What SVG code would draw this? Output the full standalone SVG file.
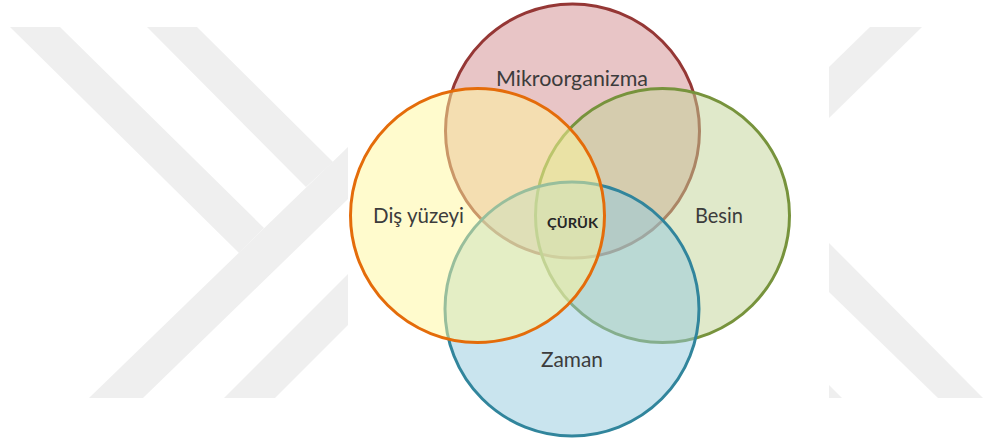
<svg xmlns="http://www.w3.org/2000/svg" width="984" height="443" viewBox="0 0 984 443">
  <style>
    .wm { fill: #efefef; }
    .lbl { font-family: Lato, "Open Sans", "Liberation Sans", sans-serif; font-size: 21px; fill: #3c3c3c; text-anchor: middle; }
    .core { font-family: Lato, "Open Sans", "Liberation Sans", sans-serif; font-size: 14px; font-weight: bold; fill: #262626; text-anchor: middle; }
    .ring { stroke-width: 3; }
  </style>
  <rect width="984" height="443" fill="#ffffff"/>
  <g id="watermark">
    <polygon class="wm" points="10,27 60,27 264,228 239,253"/>
    <polygon class="wm" points="147,27 197,27 333,162 306,187"/>
    <polygon class="wm" points="89,398 143,398 348,199 348,147"/>
    <polygon class="wm" points="224,398 275,398 348,325 348,274"/>
    <polygon class="wm" points="870,27 922,27 829,118 829,67"/>
    <polygon class="wm" points="829,243 983,398 938,398 829,292"/>
    <polygon class="wm" points="829,385 842,398 829,398"/>
  </g>
  <g id="node-mikroorganizma">
    <circle class="ring" cx="572.5" cy="131" r="127" fill="#d18b8d" fill-opacity="0.5" stroke="#953735"/>
  </g>
  <g id="node-besin">
    <circle class="ring" cx="662.5" cy="215.5" r="127" fill="#c1d395" fill-opacity="0.5" stroke="#77933c"/>
  </g>
  <g id="node-zaman">
    <circle class="ring" cx="572" cy="309" r="127" fill="#93c9dd" fill-opacity="0.5" stroke="#31859c"/>
  </g>
  <g id="node-dis-yuzeyi">
    <circle class="ring" cx="477.5" cy="215.5" r="127" fill="#fff89b" fill-opacity="0.5" stroke="#e46c0a"/>
  </g>
  <g id="labels">
    <text class="lbl" x="572" y="86" textLength="152" lengthAdjust="spacingAndGlyphs">Mikroorganizma</text>
    <text class="lbl" x="418.5" y="223" textLength="91" lengthAdjust="spacingAndGlyphs">Diş yüzeyi</text>
    <text class="lbl" x="719" y="223" textLength="48" lengthAdjust="spacingAndGlyphs">Besin</text>
    <text class="lbl" x="572" y="367" textLength="62" lengthAdjust="spacingAndGlyphs">Zaman</text>
  </g>
  <g id="node-curuk">
    <text class="core" x="572.5" y="227.5" textLength="51" lengthAdjust="spacingAndGlyphs">ÇÜRÜK</text>
  </g>
</svg>
